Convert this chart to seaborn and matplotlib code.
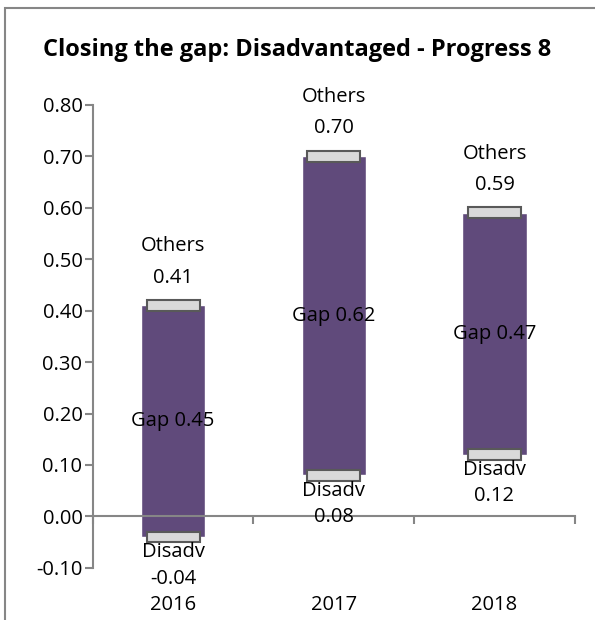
import matplotlib
matplotlib.use("Agg")
import matplotlib.pyplot as plt
import seaborn as sns
import pandas as pd
from matplotlib.patches import Rectangle

years = ["2016", "2017", "2018"]
others = [0.41, 0.70, 0.59]
disadv = [-0.04, 0.08, 0.12]
yticks = [-0.10, 0.00, 0.10, 0.20, 0.30, 0.40, 0.50, 0.60, 0.70, 0.80]

df = pd.DataFrame({"year": years, "others": others, "disadv": disadv})
df["gap"] = df["others"] - df["disadv"]

sns.set_style("white")
plt.rcParams["font.family"] = ["Open Sans", "DejaVu Sans"]
plt.rcParams["text.color"] = "black"
plt.rcParams["ytick.labelcolor"] = "black"

purple = "#604a7b"
grey = "#868686"
fs = 14.5

fig = plt.figure(figsize=(5.95, 6.2), dpi=100)
ax = fig.add_axes([0.156, 0.084, 0.81, 0.747])

# floating bar from disadvantaged to others
sns.barplot(data=df, x="year", y="gap", bottom=df["disadv"], color=purple,
            width=0.4, saturation=1, ax=ax)

# grey marker boxes at both ends
xs = range(len(years))
for vals in (df["others"], df["disadv"]):
    ax.bar(xs, 0.021, bottom=vals - 0.0105, width=0.33, color="#d9d9d9",
           edgecolor="#595959", linewidth=1.5, zorder=3)

for i, r in df.iterrows():
    ax.annotate(f"{r.others:.2f}", (i, r.others), xytext=(0, 20), textcoords="offset points",
                ha="center", va="center", fontsize=fs)
    ax.annotate("Others", (i, r.others), xytext=(0, 42.5), textcoords="offset points",
                ha="center", va="center", fontsize=fs)
    ax.annotate("Disadv", (i, r.disadv), xytext=(0, -11), textcoords="offset points",
                ha="center", va="center", fontsize=fs)
    ax.annotate(f"{r.disadv:.2f}", (i, r.disadv), xytext=(0, -30), textcoords="offset points",
                ha="center", va="center", fontsize=fs)
    ax.text(i, (r.others + r.disadv) / 2, f"Gap {r.gap:.2f}", ha="center", va="center",
            fontsize=fs, zorder=4)
    ax.text(i, -0.08, years[i], transform=ax.get_xaxis_transform(), ha="center",
            va="center", fontsize=fs)

ax.set_ylim(-0.1, 0.8)
ax.set_xlim(-0.5, 2.5)
ax.set_yticks(yticks)
ax.set_yticklabels([f"{t:.2f}" for t in yticks], fontsize=fs)
ax.set_xticks([-0.5, 0.5, 1.5, 2.5])
ax.set_xticklabels([])
ax.set_xlabel("")
ax.set_ylabel("")

for s in ("top", "right"):
    ax.spines[s].set_visible(False)
ax.spines["bottom"].set_position(("data", 0))
for s in ("left", "bottom"):
    ax.spines[s].set_color(grey)
    ax.spines[s].set_linewidth(1.5)
ax.tick_params(axis="both", direction="out", length=6, width=1.5, color=grey, pad=1.5)
ax.tick_params(axis="y", left=True)
ax.tick_params(axis="x", bottom=True)

fig.text(0.5, 1 - 50 / 620, "Closing the gap: Disadvantaged - Progress 8", ha="center",
         va="center", fontsize=17, fontweight="bold")

fig.patches.append(Rectangle((5 / 595, -0.1), 1.2, 1.1 - 8 / 620, transform=fig.transFigure,
                             fill=False, edgecolor=grey, linewidth=1.5))

fig.savefig("out.png", dpi=100)
